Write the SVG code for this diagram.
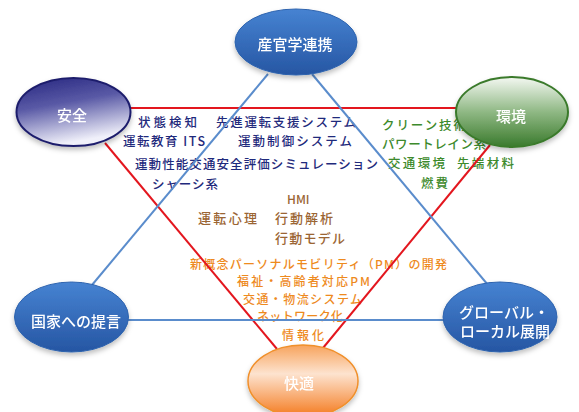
<svg xmlns="http://www.w3.org/2000/svg" width="579" height="412" viewBox="0 0 579 412">
  <defs>
    <linearGradient id="gBlue" x1="0" y1="0" x2="0" y2="1">
      <stop offset="0" stop-color="#4683d2"/>
      <stop offset="1" stop-color="#2656a3"/>
    </linearGradient>
    <linearGradient id="gNavy" x1="0" y1="0" x2="0.3" y2="1">
      <stop offset="0" stop-color="#25257f"/>
      <stop offset="0.45" stop-color="#5a5aa6"/>
      <stop offset="1" stop-color="#f0f0fa"/>
    </linearGradient>
    <linearGradient id="gGreen" x1="0" y1="0" x2="0" y2="1">
      <stop offset="0" stop-color="#f4f8f2"/>
      <stop offset="0.5" stop-color="#8fb884"/>
      <stop offset="1" stop-color="#3a7a2c"/>
    </linearGradient>
    <linearGradient id="gOrange" x1="0" y1="0" x2="0" y2="1">
      <stop offset="0" stop-color="#f7a35c"/>
      <stop offset="0.4" stop-color="#fde3cf"/>
      <stop offset="1" stop-color="#f47a1e"/>
    </linearGradient>
    <filter id="shadow" x="-20%" y="-20%" width="140%" height="150%">
      <feDropShadow dx="0" dy="3" stdDeviation="2.5" flood-color="#000" flood-opacity="0.25"/>
    </filter>
  </defs>
  <style>
    text { font-family: "Noto Sans CJK JP", "Noto Sans", sans-serif; dominant-baseline: central; font-weight: 500; }
    .navy { fill: #1f2a7c; font-size: 12.5px; }
    .green { fill: #3d8a2c; font-size: 12.5px; }
    .brown { fill: #9b6533; font-size: 13px; }
    .orange { fill: #ee8a1e; font-size: 12px; }
    .lbl { fill: #ffffff; font-size: 15px; text-anchor: middle; }
    .red { stroke: #e3161e; stroke-width: 2; fill: none; }
    .blue { stroke: #5a8ccc; stroke-width: 2; fill: none; }
    .node { filter: url(#shadow); }
  </style>
  <rect width="579" height="412" fill="#ffffff"/>

  <g id="labels">
    <text class="navy" x="138" y="121.5" textLength="59">状態検知</text>
    <text class="navy" x="216" y="121.5" textLength="140">先進運転支援システム</text>
    <text class="navy" x="123" y="140.5" textLength="82">運転教育 ITS</text>
    <text class="navy" x="238" y="140.5" textLength="114">運動制御システム</text>
    <text class="navy" x="135" y="163" textLength="243">運動性能交通安全評価シミュレーション</text>
    <text class="navy" x="152" y="183" textLength="66">シャーシ系</text>

    <text class="green" x="382" y="124" textLength="84">クリーン技術</text>
    <text class="green" x="382" y="143.5" textLength="104">パワートレイン系</text>
    <text class="green" x="388" y="162" textLength="57">交通環境</text>
    <text class="green" x="457" y="162" textLength="57">先端材料</text>
    <text class="green" x="421" y="182" textLength="27">燃費</text>

    <text class="brown" x="287" y="198" style="font-size:12px">HMI</text>
    <text class="brown" x="198" y="217" textLength="59">運転心理</text>
    <text class="brown" x="275" y="217" textLength="58">行動解析</text>
    <text class="brown" x="275" y="237" textLength="70">行動モデル</text>

    <text class="orange" x="190" y="263" textLength="257">新概念パーソナルモビリティ（PM）の開発</text>
    <text class="orange" x="237" y="280.5" textLength="133">福祉・高齢者対応PM</text>
    <text class="orange" x="243" y="298" textLength="119">交通・物流システム</text>
    <text class="orange" x="257" y="315.5" textLength="86">ネットワーク化</text>
    <text class="orange" x="282" y="334" textLength="42">情報化</text>
  </g>

  <g id="connectors">
    <line class="red" x1="130" y1="108" x2="458" y2="108"/>
    <line class="red" x1="105" y1="143" x2="277" y2="349"/>
    <line class="red" x1="490" y1="145" x2="323" y2="348"/>
    <line class="blue" x1="268" y1="74" x2="92" y2="285"/>
    <line class="blue" x1="312" y1="74" x2="488" y2="285"/>
    <line class="blue" x1="127" y1="320" x2="444" y2="320"/>
  </g>

  <g id="node-sankangaku" class="node">
    <ellipse cx="296" cy="42" rx="61" ry="33" fill="url(#gBlue)" stroke="#2d63ae" stroke-width="1"/>
    <text class="lbl" x="295" y="43">産官学連携</text>
  </g>
  <g id="node-anzen" class="node">
    <ellipse cx="73.5" cy="112" rx="57" ry="34" fill="url(#gNavy)" stroke="#1e1e6c" stroke-width="2"/>
    <text class="lbl" x="72" y="114">安全</text>
  </g>
  <g id="node-kankyo" class="node">
    <ellipse cx="512" cy="112" rx="56" ry="35" fill="url(#gGreen)" stroke="#3a7a2c" stroke-width="2"/>
    <text class="lbl" x="511" y="115">環境</text>
  </g>
  <g id="node-kokka" class="node">
    <ellipse cx="71.5" cy="317" rx="57" ry="35" fill="url(#gBlue)" stroke="#2d63ae" stroke-width="1"/>
    <text class="lbl" x="76" y="320">国家への提言</text>
  </g>
  <g id="node-global" class="node">
    <ellipse cx="500" cy="317" rx="57" ry="35" fill="url(#gBlue)" stroke="#2d63ae" stroke-width="1"/>
    <text class="lbl" x="504" y="311">グローバル・</text>
    <text class="lbl" x="505" y="330">ローカル展開</text>
  </g>
  <g id="node-kaiteki" class="node">
    <ellipse cx="303" cy="381" rx="55" ry="36" fill="url(#gOrange)" stroke="#f0902c" stroke-width="1.5"/>
    <text class="lbl" x="299" y="382">快適</text>
  </g>
</svg>
